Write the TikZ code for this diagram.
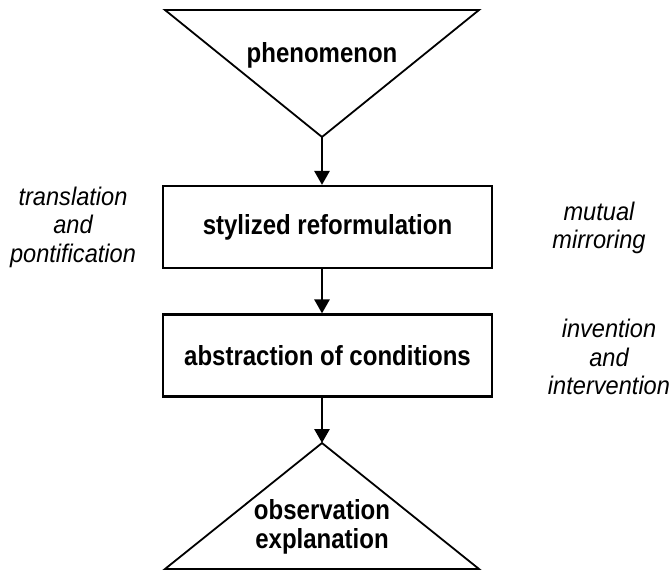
\documentclass[tikz,border=0pt]{standalone}
\usepackage{fontspec}
\setmainfont{Liberation Sans}
\usetikzlibrary{arrows.meta}
% slightly tall lettering, one line at a time
\newcommand\tallline[1]{\scalebox{1}[1.15]{#1}}
\newcommand\notelines[1]{\scalebox{1}[1.08]{#1}}
\tikzset{
  stagebox/.style={draw, line width=2.2pt, minimum width=329pt, minimum height=82pt,
    inner sep=0pt, font=\fontsize{24}{27}\selectfont\bfseries},
  stagelabel/.style={align=center, inner sep=0pt, font=\fontsize{24}{29}\selectfont\bfseries},
  sidenote/.style={align=center, inner sep=0pt, font=\fontsize{23.6}{28.5}\selectfont\itshape},
  funnel/.style={line width=1.8pt, line join=miter},
  flow/.style={line width=2.8pt, -{Triangle[length=14pt,width=15pt]}}
}
\begin{document}
\begin{tikzpicture}[x=1pt,y=-1pt]
  \useasboundingbox (0,0) rectangle (670,571);

  % top (inverted) triangle
  \coordinate (tl) at (165,10);
  \coordinate (tr) at (479,10);
  \coordinate (tapex) at (322,137);
  \draw[funnel] (tl) -- (tr) -- (tapex) -- cycle;
  \node[stagelabel] (phen) at (322,55) {\tallline{phenomenon}};

  % the two process boxes
  \node[stagebox] (ref) at (327.5,227) {\tallline{stylized reformulation}};
  \node[stagebox] (abs) at (327.5,355.5) {\tallline{abstraction of conditions}};

  % bottom triangle
  \coordinate (bapex) at (322,443);
  \coordinate (bl) at (165,569);
  \coordinate (br) at (479,569);
  \draw[funnel] (bl) -- (bapex) -- (br) -- cycle;
  \node[stagelabel] (obs) at (322,527) {\tallline{observation}\\\tallline{explanation}};

  % side notes
  \node[sidenote] (trans) at (73,227)
    {\notelines{translation}\\\notelines{and}\\\notelines{pontification}};
  \node[sidenote] (mirr) at (599,228) {\notelines{mutual}\\\notelines{mirroring}};
  \node[sidenote] (inv) at (609,357)
    {\notelines{invention}\\\notelines{and}\\\notelines{intervention}};

  % flow arrows
  \draw[flow] (tapex) -- (tapex |- ref.north);
  \draw[flow] (tapex |- ref.south) -- (tapex |- abs.north);
  \draw[flow] (tapex |- abs.south) -- (bapex);
\end{tikzpicture}
\end{document}
